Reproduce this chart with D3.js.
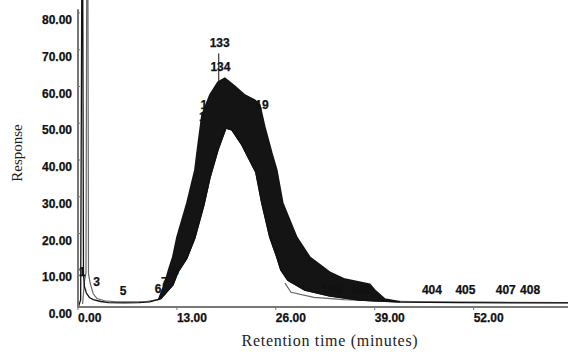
<!DOCTYPE html>
<html>
<head>
<meta charset="utf-8">
<script src="https://cdn.jsdelivr.net/npm/d3@7"></script>
<style>
  body { margin: 0; background: #fff; }
  .tick-label { font-family: "Liberation Sans", Arial, sans-serif; font-weight: bold; font-size: 12px; fill: #111; stroke: #111; stroke-width: 0.25px; }
  .peak-label { font-family: "Liberation Sans", Arial, sans-serif; font-weight: bold; font-size: 12px; fill: #111; stroke: #111; stroke-width: 0.25px; }
  .axis-title { font-family: "Liberation Serif", "Times New Roman", serif; font-size: 15px; fill: #222; }
</style>
</head>
<body>
<div id="chart"></div>
<script>
// axis ticks
const yTicks = [0, 10, 20, 30, 40, 50, 60, 70, 80];
const xTicks = [0, 13, 26, 39, 52];

// main (black) trace: [minutes, response]
const traceBlack = [
  [0.1, 0.3], [0.35, 2], [0.5, 90], [0.62, 90], [0.72, 9], [0.85, 5.5], [1.1, 3.8],
  [1.5, 2.6], [2, 2.0], [3, 1.5], [4, 1.2], [6, 1.1], [8, 1.2], [9.45, 1.4],
  [10.77, 2.2], [12.48, 6.0], [13.13, 9.5], [14.31, 13.3], [15.36, 18.8],
  [16.55, 27.8], [17.33, 35.1], [18.39, 42.7], [19.44, 48.7], [20.22, 48.2],
  [21.54, 44.1], [23.37, 36.7], [24.16, 28.3], [25.21, 19.0], [26.13, 13.6],
  [26.66, 10.1], [27.58, 7.3], [29.81, 4.6], [33.09, 3.0], [37.03, 1.9],
  [42.3, 1.3], [50, 1.2], [58, 1.1], [64.4, 1.1]
];

// second (grey) trace: shifted solvent peak, then its tail after the main hump
const traceGreyHead = [
  [0.6, 0.8], [0.85, 7], [1.05, 9.5], [1.15, 90], [1.3, 90], [1.38, 9], [1.6, 6.5],
  [2.0, 3.6], [2.5, 2.3], [3.5, 1.7], [5, 1.4], [7, 1.4], [9, 1.5], [10.5, 2.0],
  [11.5, 3.5]
];
const traceGreyTail = [
  [27.2, 6.5], [28, 4.0], [31, 2.6], [35, 2.0], [40, 1.6], [46, 1.4], [54, 1.3],
  [64.4, 1.2]
];

// dense overlapping region: outer edge (left->right) and inner edge (left->right)
const bandOuter = [
  [10.6, 2.1], [11.4, 6.5], [11.9, 10.1], [12.45, 13.6], [13.0, 19.0],
  [14.31, 28.3], [15.36, 37.3], [15.63, 41.9], [16.28, 52.2], [17.33, 57.7],
  [18.39, 61.2], [19.3, 62.3], [20.6, 60.1], [21.93, 57.7], [23.24, 56.3],
  [23.9, 55.0], [24.56, 49.0], [25.48, 41.9], [26.13, 37.3], [26.92, 28.3],
  [28.76, 19.0], [30.47, 13.6], [33.09, 9.5], [35.06, 7.6], [38.35, 6.2],
  [39.0, 4.6], [40.3, 2.2], [42.3, 1.4]
];
const bandInner = [
  [10.6, 2.1], [10.9, 2.3], [12.48, 6.0], [13.13, 9.5], [14.31, 13.3], [15.36, 18.8],
  [16.55, 27.8], [17.33, 35.1], [18.39, 42.7], [19.44, 48.7], [20.22, 48.2],
  [21.54, 44.1], [23.37, 36.7], [24.16, 28.3], [25.21, 19.0], [26.13, 13.6],
  [26.66, 10.1], [27.58, 7.3], [29.81, 4.6], [33.09, 3.0], [37.03, 1.9], [42.3, 1.4]
];

// peak numbers: [label, minutes, response]
const peakLabels = [
  ['1', 0.1, 8.5], ['3', 2.0, 5.8], ['5', 5.5, 3.3], ['6', 10.1, 3.8], ['7', 10.9, 5.6],
  ['8', 12.4, 8.6], ['133', 17.3, 70.8], ['134', 17.4, 64.2], ['1', 16.1, 54.0],
  ['1', 15.9, 50.6], ['19', 23.3, 54.0], ['1400', 32.1, 3.5], ['1402', 35.9, 3.5],
  ['404', 45.2, 3.5], ['405', 49.6, 3.5], ['407', 54.9, 3.5], ['408', 58.1, 3.5]
];

const width = 568, height = 354;
const svg = d3.select('#chart').append('svg')
  .attr('width', width).attr('height', height);

const x = d3.scaleLinear().domain([0, 64.4]).range([78, 568]);
const y = d3.scaleLinear().domain([0, 80]).range([307, 13]);

const line = d3.line().x(d => x(d[0])).y(d => y(d[1]));

[traceGreyHead, traceGreyTail].forEach(t => {
  svg.append('path').attr('d', line(t))
    .attr('fill', 'none').attr('stroke', '#666').attr('stroke-width', 1.2);
});

// dense band as closed polygon: outer forward, inner backward
svg.append('path')
  .attr('d', line(bandOuter.concat(bandInner.slice().reverse())) + 'Z')
  .attr('fill', '#141414').attr('stroke', '#141414').attr('stroke-width', 1.5);

svg.append('path').attr('d', line(traceBlack))
  .attr('fill', 'none').attr('stroke', '#111').attr('stroke-width', 1.3);

// marker line under the top peak label
svg.append('line')
  .attr('x1', x(18.5)).attr('x2', x(18.5))
  .attr('y1', y(69.0)).attr('y2', y(61.5))
  .attr('stroke', '#111').attr('stroke-width', 1);

svg.append('g').selectAll('text').data(peakLabels).join('text')
  .attr('class', 'peak-label')
  .attr('x', d => x(d[1])).attr('y', d => y(d[2]))
  .attr('textLength', d => d[0].length > 3 ? 20 : null)
  .attr('lengthAdjust', 'spacingAndGlyphs')
  .text(d => d[0]);

// axes
svg.append('line')
  .attr('x1', x(0)).attr('x2', x(0)).attr('y1', y(81)).attr('y2', y(0))
  .attr('stroke', '#777').attr('stroke-width', 2);
svg.append('line')
  .attr('x1', x(0) - 1).attr('x2', width).attr('y1', y(0)).attr('y2', y(0))
  .attr('stroke', '#777').attr('stroke-width', 2);

svg.append('g').selectAll('line').data(yTicks).join('line')
  .attr('x1', x(0) - 1).attr('x2', x(0) + 2)
  .attr('y1', d => y(d)).attr('y2', d => y(d))
  .attr('stroke', '#777');
svg.append('g').selectAll('text').data(yTicks).join('text')
  .attr('class', 'tick-label')
  .attr('x', 72).attr('y', d => y(d) + 11)
  .attr('text-anchor', 'end')
  .text(d => d3.format('.2f')(d));

svg.append('g').selectAll('line').data(xTicks).join('line')
  .attr('x1', d => x(d)).attr('x2', d => x(d))
  .attr('y1', y(0)).attr('y2', y(0) + 3)
  .attr('stroke', '#777');
svg.append('g').selectAll('text').data(xTicks).join('text')
  .attr('class', 'tick-label')
  .attr('x', d => x(d)).attr('y', y(0) + 15)
  .text(d => d3.format('.2f')(d));

svg.append('text').attr('class', 'axis-title')
  .attr('x', 330).attr('y', 346).attr('text-anchor', 'middle')
  .style('font-size', '16px').style('letter-spacing', '0.7px')
  .text('Retention time (minutes)');
svg.append('text').attr('class', 'axis-title')
  .attr('transform', 'translate(22,153) rotate(-90)')
  .attr('text-anchor', 'middle')
  .text('Response');
</script>
</body>
</html>
